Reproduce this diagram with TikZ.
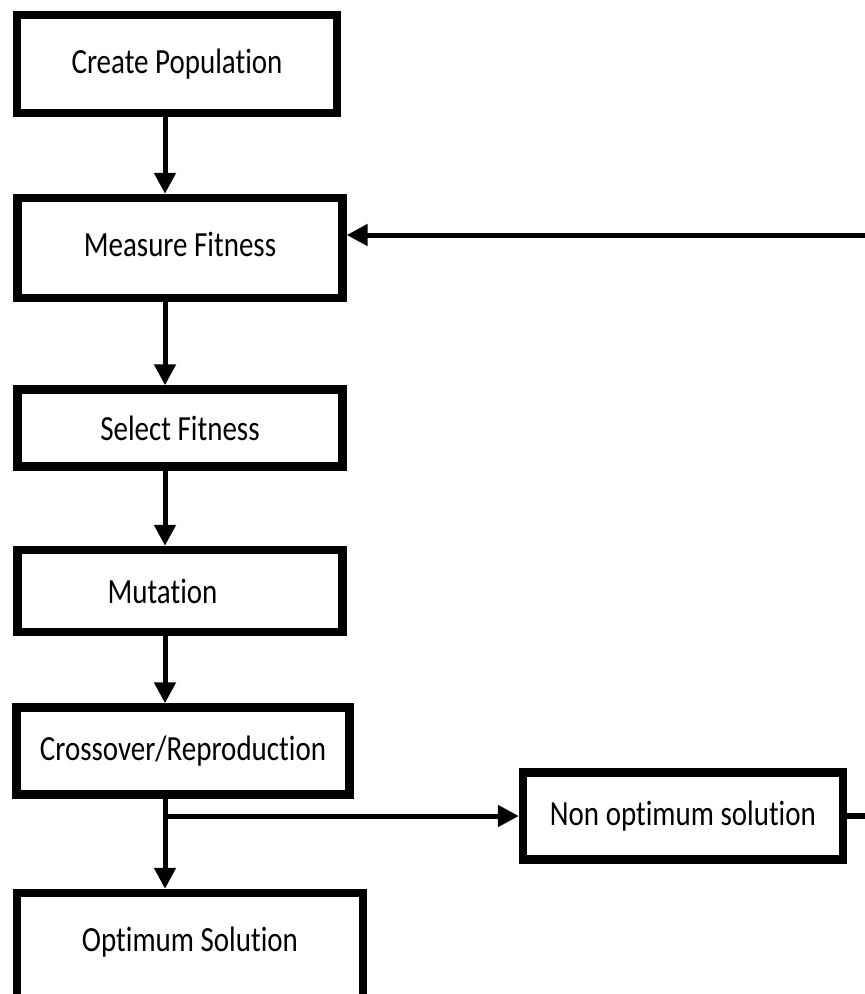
\documentclass[tikz,border=0pt]{standalone}
\usepackage{fontspec}
\setmainfont{Carlito}[Ligatures=NoCommon]
\usetikzlibrary{arrows.meta}
\newcommand{\tall}[1]{\scalebox{1}[1.22]{#1}}

\begin{document}
\begin{tikzpicture}[x=0.02cm,y=-0.02cm,
        stage/.style = {draw, line width=0.17cm, inner sep=0pt, font=\fontsize{16.5}{20}\selectfont},
        arr/.style = {line width=0.1cm, -{Triangle[length=0.42cm,width=0.42cm]}},
        link/.style = {line width=0.11cm}]
        \useasboundingbox (0,0) rectangle (865,994);
        \coordinate (spine) at (165,0);
        \coordinate (redge) at (866,235);
        \node[stage,minimum width=6.4cm,minimum height=1.96cm] (cp) at (177,64) {\raisebox{0.12cm}{\tall{Create Population}}};
        \node[stage,minimum width=6.5cm,minimum height=2cm] (mf) at (180,248) {\raisebox{0.16cm}{\tall{Measure Fitness}}};
        \node[stage,minimum width=6.5cm,minimum height=1.54cm] (sf) at (180,428) {\tall{Select Fitness}};
        \node[stage,minimum width=6.5cm,minimum height=1.64cm] (mu) at (180,591) {\hspace*{-0.7cm}\tall{Mutation}};
        \node[stage,minimum width=6.66cm,minimum height=1.74cm] (co) at (183,751) {\tall{Crossover/Reproduction}};
        \node[stage,minimum width=6.92cm,minimum height=2.2cm] (os) at (190,948) {\raisebox{0.36cm}{\tall{Optimum Solution}}};
        \node[stage,minimum width=6.4cm,minimum height=1.74cm] (no) at (683,816) {\tall{Non optimum solution}};
        \draw[arr] (cp.south -| spine) -- (mf.north -| spine);
        \draw[arr] (mf.south -| spine) -- (sf.north -| spine);
        \draw[arr] (sf.south -| spine) -- (mu.north -| spine);
        \draw[arr] (mu.south -| spine) -- (co.north -| spine);
        \draw[arr] (co.south -| spine) -- (os.north -| spine);
        \draw[arr] (spine |- no.west) -- (no.west);
        \draw[link] (no.east) -- (no.east -| redge);
        \draw[arr] (redge) -- (redge -| mf.east);
\end{tikzpicture}
\end{document}
